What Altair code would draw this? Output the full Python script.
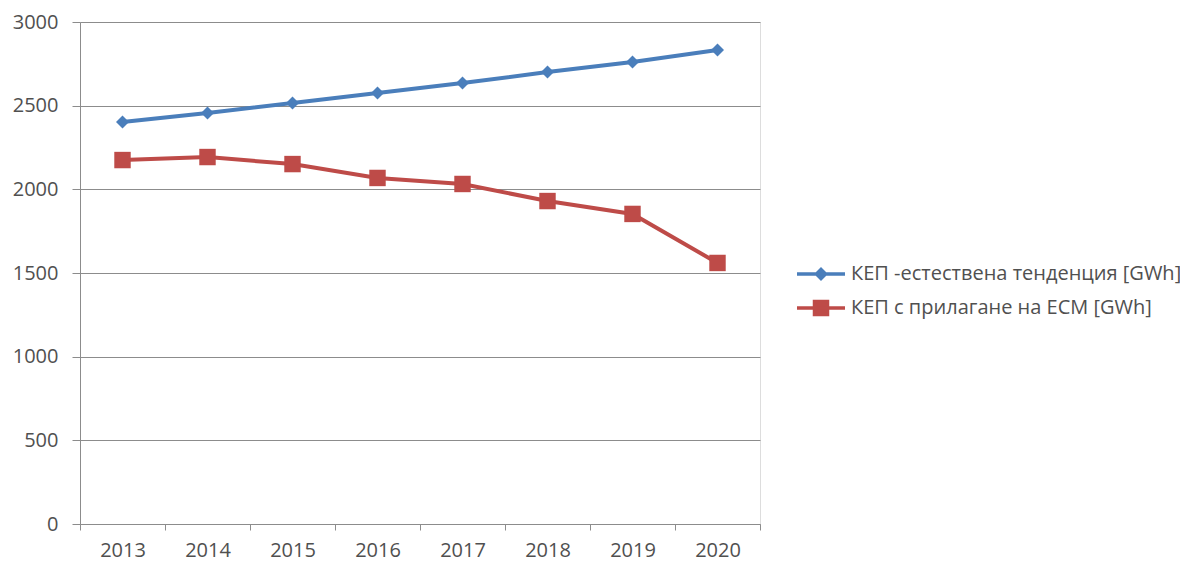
import altair as alt
import pandas as pd

years = ["2013", "2014", "2015", "2016", "2017", "2018", "2019", "2020"]
natural = [2402, 2456, 2516, 2576, 2635, 2701, 2761, 2833]
ecm = [2175, 2193, 2151, 2068, 2032, 1930, 1853, 1560]
series_names = ["КЕП -естествена тенденция [GWh]", "КЕП с прилагане на ЕСМ [GWh]"]
colors = ["#4A7EBB", "#BE4B48"]

rows = []
for y, a, b in zip(years, natural, ecm):
    rows.append({"year": y, "value": a, "series": series_names[0]})
    rows.append({"year": y, "value": b, "series": series_names[1]})
df = pd.DataFrame(rows)

font = "Open Sans"
x = alt.X("year:N", title=None,
          scale=alt.Scale(type="band", paddingInner=0, paddingOuter=0),
          axis=alt.Axis(labelAngle=0, tickBand="extent", grid=False, domainColor="#8c8c8c",
                        tickColor="#8c8c8c", tickSize=6, labelPadding=10, labelFontSize=20,
                        labelColor="#505050", labelFont=font))
y = alt.Y("value:Q", title=None,
          scale=alt.Scale(domain=[0, 3000]),
          axis=alt.Axis(values=[0, 500, 1000, 1500, 2000, 2500, 3000], format="d",
                        gridColor="#8c8c8c",
                        domainColor="#8c8c8c", tickColor="#8c8c8c", tickSize=8, labelPadding=14,
                        labelFontSize=20, labelColor="#505050", labelFont=font))
color_scale = alt.Scale(domain=series_names, range=colors)

base = alt.Chart(df)
marker_shapes = ["diamond", "square"]
marker_sizes = [170, 270]
layers = []
for name, col, shp, sz in zip(series_names, colors, marker_shapes, marker_sizes):
    sub = base.transform_filter(alt.datum.series == name)
    layers.append(sub.mark_line(strokeWidth=4, color=col).encode(x=x, y=y))
    layers.append(sub.mark_point(filled=True, opacity=1, size=sz, shape=shp, color=col).encode(x=x, y=y))

legend_paths = [
    "M-2.4,0H2.4M0,-0.45L0.45,0L0,0.45L-0.45,0Z",
    "M-2.4,0H2.4M-0.65,-0.65H0.65V0.65H-0.65Z",
]
leg = dict(title=None, orient="none", legendX=729, legendY=240,
           symbolSize=400, symbolStrokeWidth=3.5, symbolOpacity=1,
           labelFontSize=20, labelColor="#505050", labelFont=font,
           rowPadding=8, labelOffset=18, labelLimit=400)
legend_layer = base.mark_point(filled=True, size=0).encode(
    x=x, y=y,
    stroke=alt.Stroke("series:N", scale=color_scale, legend=alt.Legend(**leg)),
    fill=alt.Fill("series:N", scale=color_scale, legend=alt.Legend(**leg)),
    shape=alt.Shape("series:N", scale=alt.Scale(domain=series_names, range=legend_paths),
                    legend=alt.Legend(**leg)))

chart = alt.layer(*layers, legend_layer).properties(
    width=680, height=502,
    autosize=alt.AutoSizeParams(type="none"),
    padding={"left": 72, "top": 14, "right": 420, "bottom": 40},
).configure_view(stroke=None).configure(background="white")

chart.save("out.html", embed_options={"renderer": "svg", "actions": False})
